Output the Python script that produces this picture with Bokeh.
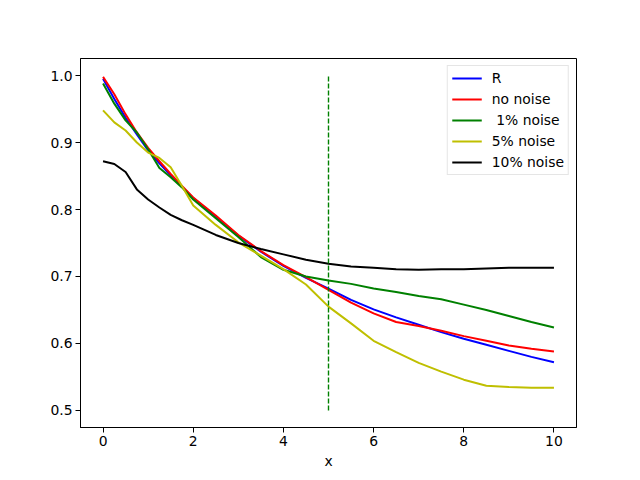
from bokeh.plotting import figure
from bokeh.models import FixedTicker, Range1d, Legend, LegendItem, PrintfTickFormatter
from bokeh.embed import file_html
from bokeh.resources import INLINE

xs = [0, 0.25, 0.5, 0.75, 1, 1.25, 1.5, 1.75, 2, 2.5, 3, 3.5, 4, 4.5,
      5, 5.5, 6, 6.5, 7, 7.5, 8, 8.5, 9, 9.5, 10]

r_vals = [0.995, 0.965, 0.937, 0.912, 0.888, 0.869, 0.851, 0.834, 0.817, 0.789,
          0.761, 0.737, 0.716, 0.698, 0.682, 0.665, 0.651, 0.639, 0.628, 0.617,
          0.607, 0.598, 0.589, 0.580, 0.572]
no_noise = [0.998, 0.972, 0.942, 0.915, 0.892, 0.872, 0.853, 0.835, 0.818, 0.791,
            0.762, 0.738, 0.717, 0.699, 0.680, 0.661, 0.645, 0.632, 0.626, 0.619,
            0.611, 0.604, 0.597, 0.592, 0.588]
noise1 = [0.988, 0.958, 0.933, 0.915, 0.890, 0.862, 0.848, 0.833, 0.815, 0.787,
          0.759, 0.729, 0.710, 0.700, 0.694, 0.689, 0.682, 0.677, 0.671, 0.666,
          0.658, 0.650, 0.641, 0.632, 0.624]
noise5 = [0.948, 0.930, 0.918, 0.900, 0.885, 0.877, 0.863, 0.835, 0.806, 0.777,
          0.751, 0.731, 0.711, 0.688, 0.655, 0.630, 0.604, 0.587, 0.571, 0.558,
          0.546, 0.537, 0.535, 0.534, 0.534]
noise10 = [0.872, 0.868, 0.856, 0.830, 0.815, 0.803, 0.792, 0.784, 0.777, 0.762,
           0.750, 0.741, 0.733, 0.725, 0.719, 0.715, 0.713, 0.711, 0.710, 0.711,
           0.711, 0.712, 0.713, 0.713, 0.713]

series_labels = ["R", "no noise", " 1% noise", "5% noise", "10% noise"]
series_colors = ["#0000ff", "#ff0000", "#008000", "#bfbf00", "#000000"]

vline_x = [5, 5]
vline_y = [0.5, 1.0]

x_ticks = [0, 2, 4, 6, 8, 10]
y_ticks = [0.5, 0.6, 0.7, 0.8, 0.9, 1.0]

FONT = "DejaVu Sans"
FSIZE = "13.9px"

p = figure(frame_width=496, frame_height=369,
           min_border_left=80, min_border_right=56,
           min_border_top=58, min_border_bottom=45,
           output_backend="svg", toolbar_location=None,
           x_range=Range1d(-0.5, 10.5), y_range=Range1d(0.4746, 1.0254))

p.background_fill_color = "white"
p.border_fill_color = "white"
p.outline_line_color = "black"
p.outline_line_width = 1
p.xgrid.visible = False
p.ygrid.visible = False

for ax in (p.xaxis[0], p.yaxis[0]):
    ax.major_tick_in = 0
    ax.major_tick_out = 5
    ax.minor_tick_line_color = None
    ax.axis_line_color = "black"
    ax.major_tick_line_color = "black"
    ax.major_label_text_font = FONT
    ax.major_label_text_font_size = FSIZE
    ax.major_label_text_color = "black"
    ax.axis_label_text_font = FONT
    ax.axis_label_text_font_size = FSIZE
    ax.axis_label_text_font_style = "normal"
    ax.axis_label_text_color = "black"

p.xaxis.ticker = FixedTicker(ticks=x_ticks)
p.yaxis.ticker = FixedTicker(ticks=y_ticks)
p.yaxis.formatter = PrintfTickFormatter(format="%.1f")
p.xaxis.axis_label = "x"
p.xaxis.major_label_standoff = 3
p.yaxis.major_label_standoff = 3
p.xaxis.axis_label_standoff = 4

items = []
for ys, lab, col in zip([r_vals, no_noise, noise1, noise5, noise10],
                        series_labels, series_colors):
    r = p.line(xs, ys, line_color=col, line_width=2, line_join="round")
    items.append(LegendItem(label=lab, renderers=[r]))

p.line(vline_x, vline_y, line_color="#008000", line_width=1.4, line_dash="5 2")

legend = Legend(items=items, location="top_right")
legend.margin = 7
legend.padding = 4
legend.spacing = 5
legend.glyph_width = 30
legend.glyph_height = 16
legend.label_height = 16
legend.label_standoff = 10
legend.label_text_font = FONT
legend.label_text_font_size = FSIZE
legend.label_text_color = "black"
legend.border_line_color = "#cccccc"
legend.border_line_width = 1
legend.background_fill_color = "white"
legend.background_fill_alpha = 0.8
p.add_layout(legend, "center")

open("out.html", "w").write(file_html(p, INLINE))
